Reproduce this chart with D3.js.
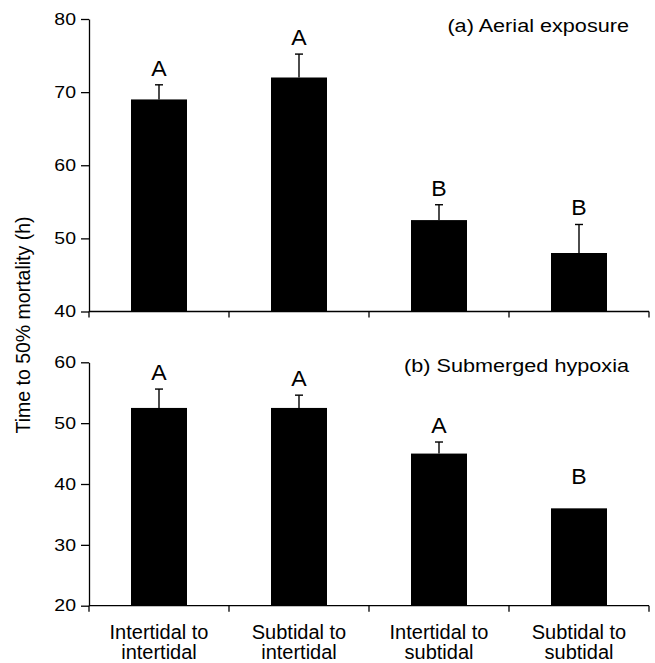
<!DOCTYPE html>
<html>
<head>
<meta charset="utf-8">
<script src="https://cdn.jsdelivr.net/npm/d3@7"></script>
<style>
  body { margin: 0; background: #fff; }
  svg text { font-family: "Liberation Sans", Arial, Helvetica, sans-serif; fill: #000; }
  .axis path, .axis line { stroke: #000; stroke-width: 1.3px; }
</style>
</head>
<body>
<svg id="chart" width="655" height="663"></svg>
<script>
// Treatment groups along the x axis (two lines each).
const groups = [
    ['Intertidal to', 'intertidal'],
    ['Subtidal to', 'intertidal'],
    ['Intertidal to', 'subtidal'],
    ['Subtidal to', 'subtidal']
];

// (a) Aerial exposure: mean time to 50% mortality and its error.
const aerialMean = [69.0, 72.0, 52.5, 48.0];
const aerialErr = [2.0, 3.2, 2.1, 3.9];
const aerialLetters = ['A', 'A', 'B', 'B'];
const aerialTicks = [40, 50, 60, 70, 80];

// (b) Submerged hypoxia.
const hypoxiaMean = [52.5, 52.5, 45.0, 36.0];
const hypoxiaErr = [3.1, 2.1, 1.9, 0];
const hypoxiaLetters = ['A', 'A', 'A', 'B'];
const hypoxiaTicks = [20, 30, 40, 50, 60];

const svg = d3.select('#chart');

// Shared x scale, plot spans from the y axis to the right edge.
const x = d3.scaleBand()
    .domain(d3.range(groups.length))
    .range([89, 649])
    .paddingInner(0.6)
    .paddingOuter(0.3);

// Horizontally widened text, the original type is a bit stretched.
const widen = (sel, k) => {
    sel.each(function () {
        const t = d3.select(this);
        const tx = +(t.attr('x') || 0);
        t.attr('x', tx / k).attr('transform', `scale(${k},1)`);
    });
};

const drawPanel = (cfg) => {
    const y = d3.scaleLinear().domain(cfg.domain).range(cfg.range);
    const g = svg.append('g');

    // Bars.
    g.selectAll('rect.bar')
        .data(cfg.mean)
        .enter().append('rect')
        .attr('class', 'bar')
        .attr('x', (d, i) => x(i))
        .attr('width', x.bandwidth())
        .attr('y', d => y(d))
        .attr('height', d => y(cfg.domain[0]) - y(d))
        .attr('fill', '#000');

    // Upper error bars.
    const eb = g.selectAll('g.err')
        .data(cfg.mean.map((m, i) => ({ m: m, e: cfg.err[i], i: i })).filter(d => d.e > 0))
        .enter().append('g')
        .attr('class', 'err');
    eb.append('line')
        .attr('x1', d => x(d.i) + x.bandwidth() / 2)
        .attr('x2', d => x(d.i) + x.bandwidth() / 2)
        .attr('y1', d => y(d.m))
        .attr('y2', d => y(d.m + d.e))
        .attr('stroke', '#000').attr('stroke-width', 1.4);
    eb.append('line')
        .attr('x1', d => x(d.i) + x.bandwidth() / 2 - 4)
        .attr('x2', d => x(d.i) + x.bandwidth() / 2 + 4)
        .attr('y1', d => y(d.m + d.e))
        .attr('y2', d => y(d.m + d.e))
        .attr('stroke', '#000').attr('stroke-width', 1.4);

    // Significance letters above each bar.
    g.selectAll('g.letter')
        .data(cfg.letters)
        .enter().append('g')
        .attr('class', 'letter')
        .attr('transform', (d, i) => {
            const top = y(cfg.mean[i] + cfg.err[i]);
            const gap = cfg.err[i] > 0 ? 9 : 24;
            return `translate(${x(i) + x.bandwidth() / 2},${top - gap})`;
        })
        .append('text')
        .attr('text-anchor', 'middle')
        .attr('font-size', 22)
        .attr('transform', 'scale(1.05,1)')
        .text(d => d);

    // Y axis.
    const yAxis = g.append('g')
        .attr('class', 'axis')
        .attr('transform', 'translate(89,0)')
        .call(d3.axisLeft(y).tickValues(cfg.ticks).tickSize(8).tickPadding(5).tickSizeOuter(0));
    yAxis.selectAll('text').attr('font-size', 16.5).call(widen, 1.18);

    // X axis with ticks at the group boundaries.
    const xa = g.append('g')
        .attr('class', 'axis')
        .attr('transform', `translate(0,${y(cfg.domain[0])})`);
    xa.append('line')
        .attr('x1', 89).attr('x2', 649)
        .attr('y1', 0).attr('y2', 0);
    xa.selectAll('line.tick')
        .data(d3.range(groups.length + 1))
        .enter().append('line')
        .attr('class', 'tick')
        .attr('x1', i => 89 + i * x.step())
        .attr('x2', i => 89 + i * x.step())
        .attr('y1', 0).attr('y2', 6);

    // Panel title.
    svg.append('g')
        .attr('transform', `translate(629,${cfg.titleY})`)
        .append('text')
        .attr('text-anchor', 'end')
        .attr('font-size', 18.5)
        .attr('transform', 'scale(1.17,1)')
        .text(cfg.title);

    return xa;
};

drawPanel({
    domain: [40, 80], range: [311.5, 19],
    mean: aerialMean, err: aerialErr, letters: aerialLetters, ticks: aerialTicks,
    title: '(a) Aerial exposure', titleY: 32
});

const bottomAxis = drawPanel({
    domain: [20, 60], range: [605.7, 362.3],
    mean: hypoxiaMean, err: hypoxiaErr, letters: hypoxiaLetters, ticks: hypoxiaTicks,
    title: '(b) Submerged hypoxia', titleY: 372
});

// Group names under the bottom panel.
const lab = bottomAxis.selectAll('text.group')
    .data(groups)
    .enter().append('text')
    .attr('class', 'group')
    .attr('text-anchor', 'middle')
    .attr('font-size', 20)
    .attr('x', (d, i) => x(i) + x.bandwidth() / 2);
lab.append('tspan').attr('x', (d, i) => x(i) + x.bandwidth() / 2).attr('y', 33).text(d => d[0]);
lab.append('tspan').attr('x', (d, i) => x(i) + x.bandwidth() / 2).attr('y', 53).text(d => d[1]);

// Shared y axis title.
svg.append('text')
    .attr('transform', 'translate(30,325) rotate(-90)')
    .attr('text-anchor', 'middle')
    .attr('font-size', 19.5)
    .text('Time to 50% mortality (h)');
</script>
</body>
</html>
